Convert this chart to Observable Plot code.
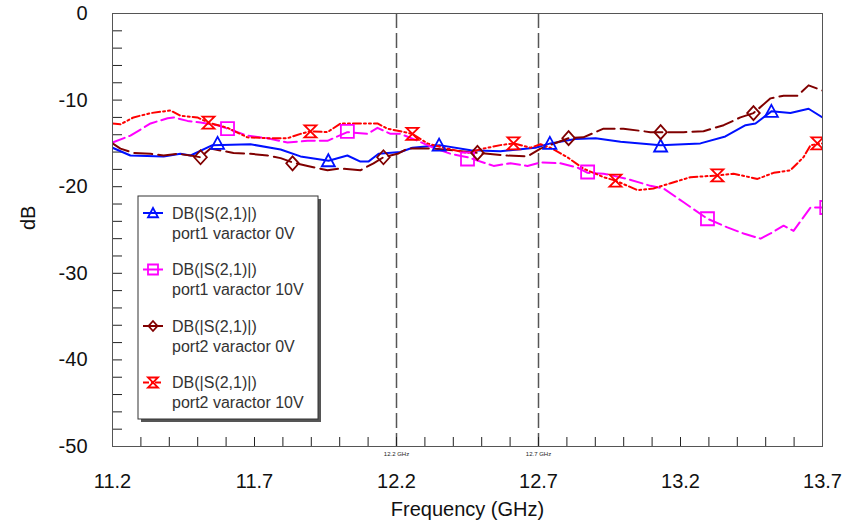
<!DOCTYPE html>
<html>
<head>
<meta charset="utf-8">
<script src="https://cdn.jsdelivr.net/npm/d3@7"></script>
<script src="https://cdn.jsdelivr.net/npm/@observablehq/plot@0.6"></script>
<style>
  html, body { margin: 0; padding: 0; background: white; }
  #chart { width: 845px; height: 524px; }
</style>
</head>
<body>
<div id="chart"></div>
<script>
// ---- Data ----
const seriesTitle = "DB(|S(2,1)|)";
const seriesNames = ["port1 varactor 0V", "port1 varactor 10V", "port2 varactor 0V", "port2 varactor 10V"];
const seriesColors = ["#0010ff", "#ff00ff", "#800000", "#ff0000"];
const seriesDash = [null, "13,5", "18,6", "8,3,2,3,2,3"];

const f1_0 = [11.200, 11.263, 11.380, 11.439, 11.475, 11.552, 11.686, 11.792, 11.862, 11.961, 12.027, 12.073, 12.101, 12.137, 12.214, 12.256, 12.351, 12.461, 12.566, 12.689, 12.742, 12.830, 12.901, 12.989, 13.130, 13.270, 13.358, 13.429, 13.464, 13.520, 13.587, 13.651, 13.700];
const db1_0 = [-15.5, -16.4, -16.5, -16.2, -16.4, -15.2, -15.1, -15.7, -16.5, -17.0, -16.4, -17.1, -17.1, -16.2, -16.0, -15.5, -15.2, -15.8, -15.9, -15.5, -15.0, -14.5, -14.4, -14.8, -15.2, -15.0, -14.2, -12.9, -12.7, -11.3, -11.5, -11.0, -12.0];

const f1_10 = [11.200, 11.263, 11.334, 11.394, 11.415, 11.464, 11.510, 11.570, 11.605, 11.675, 11.746, 11.816, 11.887, 11.957, 12.027, 12.098, 12.133, 12.179, 12.214, 12.274, 12.330, 12.390, 12.450, 12.542, 12.601, 12.661, 12.707, 12.777, 12.838, 12.873, 12.929, 13.013, 13.094, 13.140, 13.211, 13.295, 13.365, 13.422, 13.482, 13.517, 13.563, 13.598, 13.658, 13.700];
const db1_10 = [-14.9, -14.1, -12.7, -12.1, -12.0, -12.4, -12.6, -12.9, -13.3, -14.1, -14.4, -14.9, -14.7, -14.7, -13.7, -13.9, -13.2, -13.9, -13.9, -14.7, -15.5, -16.2, -16.6, -17.6, -17.3, -17.6, -17.2, -17.3, -17.8, -18.4, -18.5, -19.1, -19.9, -20.2, -21.8, -23.7, -24.7, -25.4, -26.0, -25.4, -24.5, -25.1, -22.4, -22.4];

const f2_0 = [11.200, 11.228, 11.274, 11.334, 11.380, 11.429, 11.475, 11.510, 11.545, 11.626, 11.686, 11.746, 11.792, 11.834, 11.887, 11.957, 12.003, 12.073, 12.119, 12.154, 12.204, 12.239, 12.330, 12.401, 12.485, 12.591, 12.661, 12.707, 12.806, 12.858, 12.929, 12.999, 13.094, 13.211, 13.281, 13.352, 13.411, 13.457, 13.517, 13.563, 13.612, 13.651, 13.700];
const db2_0 = [-15.0, -15.6, -16.1, -16.2, -16.4, -16.2, -16.4, -16.6, -15.6, -16.1, -16.2, -16.4, -16.7, -17.2, -17.6, -18.1, -17.9, -18.1, -17.3, -16.6, -16.2, -15.6, -15.6, -15.8, -16.1, -16.4, -16.5, -15.6, -14.4, -14.3, -13.3, -13.3, -13.7, -13.7, -13.6, -12.9, -12.0, -11.5, -9.8, -9.5, -9.5, -8.3, -8.9];

const f2_10 = [11.200, 11.228, 11.274, 11.334, 11.404, 11.439, 11.499, 11.538, 11.605, 11.675, 11.746, 11.816, 11.862, 11.897, 11.957, 12.003, 12.073, 12.133, 12.168, 12.214, 12.256, 12.309, 12.365, 12.450, 12.506, 12.566, 12.612, 12.672, 12.707, 12.742, 12.802, 12.858, 12.929, 12.971, 13.049, 13.105, 13.165, 13.235, 13.330, 13.387, 13.471, 13.528, 13.587, 13.633, 13.658, 13.700];
const db2_10 = [-12.7, -12.8, -12.0, -11.5, -11.2, -11.8, -12.0, -12.6, -13.2, -14.3, -14.4, -14.4, -13.9, -13.6, -13.7, -12.7, -12.7, -12.7, -13.3, -13.6, -13.9, -15.0, -15.5, -16.1, -15.6, -15.2, -15.0, -15.5, -15.1, -15.5, -16.6, -17.9, -18.9, -19.3, -20.4, -20.2, -19.6, -18.9, -18.7, -18.5, -19.1, -18.4, -18.1, -16.6, -15.2, -15.0];

// marker positions
const mf1_0 = [11.57, 11.96, 12.35, 12.74, 13.13, 13.52];
const mdb1_0 = [-15.0, -17.0, -15.2, -15.0, -15.3, -11.3];
const mf1_10 = [11.605, 12.027, 12.45, 12.873, 13.295, 13.715];
const mdb1_10 = [-13.3, -13.6, -16.8, -18.3, -23.7, -22.4];
const mf2_0 = [11.51, 11.834, 12.154, 12.485, 12.806, 13.13, 13.457];
const mdb2_0 = [-16.6, -17.3, -16.6, -16.1, -14.4, -13.7, -11.5];
const mf2_10 = [11.538, 11.897, 12.256, 12.612, 12.971, 13.33, 13.682];
const mdb2_10 = [-12.6, -13.6, -13.9, -15.0, -19.3, -18.7, -15.0];

const xMajor = [11.2, 11.7, 12.2, 12.7, 13.2, 13.7];
const yMajor = [0, -10, -20, -30, -40, -50];
const xMinor = d3.range(112, 137).map(d => d / 10);
const yMinor = d3.range(-48, 0, 2);
const markerLines = [12.2, 12.7];

// ---- symbols ----
const symTriangle = {draw(c, s) { const r = Math.sqrt(s / Math.PI); c.moveTo(0, -r); c.lineTo(r, r * 0.85); c.lineTo(-r, r * 0.85); c.closePath(); }};
const symSquare = {draw(c, s) { const r = Math.sqrt(s / Math.PI); c.rect(-r, -r, 2 * r, 2 * r); }};
const symDiamond = {draw(c, s) { const r = Math.sqrt(s / Math.PI); c.moveTo(0, -r); c.lineTo(r * 0.9, 0); c.lineTo(0, r); c.lineTo(-r * 0.9, 0); c.closePath(); }};
const symHourglass = {draw(c, s) { const r = Math.sqrt(s / Math.PI); c.moveTo(-r, -r); c.lineTo(r, -r); c.lineTo(-r, r); c.lineTo(r, r); c.closePath(); }};
const symbols = [symTriangle, symSquare, symDiamond, symHourglass];
const symR = [6.5, 6.5, 7, 6];

const lineData = [[f1_0, db1_0], [f1_10, db1_10], [f2_0, db2_0], [f2_10, db2_10]]
  .map(([f, v]) => f.map((x, i) => ({x, y: v[i]})));
const markData = [[mf1_0, mdb1_0], [mf1_10, mdb1_10], [mf2_0, mdb2_0], [mf2_10, mdb2_10]]
  .map(([f, v]) => f.map((x, i) => ({x, y: v[i]})));

const font = "'Liberation Sans', Arial, Helvetica, sans-serif";

const marks = [
  Plot.ruleX(markerLines, {stroke: "#555", strokeWidth: 1.5, strokeDasharray: "15,5"}),
  Plot.axisX({ticks: xMinor, tickSize: -9, tickFormat: () => "", label: null, stroke: "#222"}),
  Plot.axisY({ticks: yMinor, tickSize: -10, tickFormat: () => "", label: null, stroke: "#222"}),
  Plot.axisX({ticks: xMajor, tickSize: 0, tickPadding: 27, fontSize: 20, label: null, tickFormat: d => d.toFixed(1), fill: "#111"}),
  Plot.axisY({ticks: yMajor, tickSize: 0, tickPadding: 25, fontSize: 20, label: null, tickFormat: d => String(d), fill: "#111"}),
  Plot.text(markerLines, {x: d => d, text: d => `${d} GHz`, frameAnchor: "bottom", dy: 9, fontSize: 6, fill: "#222"}),
  Plot.text(["Frequency (GHz)"], {frameAnchor: "bottom", dy: 69, fontSize: 20, fill: "#111"}),
  Plot.text(["dB"], {frameAnchor: "left", dx: -84, rotate: -90, fontSize: 20, fill: "#111"})
];
lineData.forEach((d, i) => {
  marks.push(Plot.line(d, {x: "x", y: "y", stroke: seriesColors[i], strokeWidth: 2, strokeDasharray: seriesDash[i], clip: true}));
});
markData.forEach((d, i) => {
  marks.push(Plot.dot(d, {x: "x", y: "y", stroke: seriesColors[i], fill: "none", strokeWidth: 1.8, symbol: symbols[i], r: symR[i], clip: true}));
});
marks.push(Plot.frame({stroke: "#555", strokeWidth: 1}));

const chart = Plot.plot({
  width: 845, height: 524,
  marginLeft: 112, marginRight: 23, marginTop: 13, marginBottom: 78,
  x: {domain: [11.2, 13.7]},
  y: {domain: [-50, 0]},
  style: {fontFamily: font, background: "white", color: "#111"},
  marks
});

// ---- legend inside the plot area ----
const svg = d3.select(chart);
const lg = svg.append("g").attr("transform", "translate(138,196)").attr("text-anchor", "start");
lg.append("rect").attr("x", 3).attr("y", 3).attr("width", 180).attr("height", 223).attr("fill", "#555");
lg.append("rect").attr("width", 180).attr("height", 223).attr("fill", "white").attr("stroke", "#333").attr("stroke-width", 1);
seriesNames.forEach((name, i) => {
  const y = 17 + i * 56.5;
  lg.append("line").attr("x1", 5).attr("x2", 25).attr("y1", y).attr("y2", y)
    .attr("stroke", seriesColors[i]).attr("stroke-width", 2)
    .attr("stroke-dasharray", i === 3 ? "6,2,2,2" : null);
  lg.append("path").attr("d", d3.symbol(symbols[i], Math.PI * 5 * 5)())
    .attr("transform", `translate(15,${y})`)
    .attr("fill", "none").attr("stroke", seriesColors[i]).attr("stroke-width", 1.8);
  lg.append("text").attr("x", 34).attr("y", y).attr("dy", "0.35em").attr("text-anchor", "start")
    .attr("font-size", 16).attr("fill", "#333").attr("font-family", font).text(seriesTitle);
  lg.append("text").attr("x", 34).attr("y", y + 20).attr("dy", "0.35em").attr("text-anchor", "start")
    .attr("font-size", 16).attr("fill", "#333").attr("font-family", font).text(name);
});

document.getElementById("chart").appendChild(chart);
</script>
</body>
</html>
